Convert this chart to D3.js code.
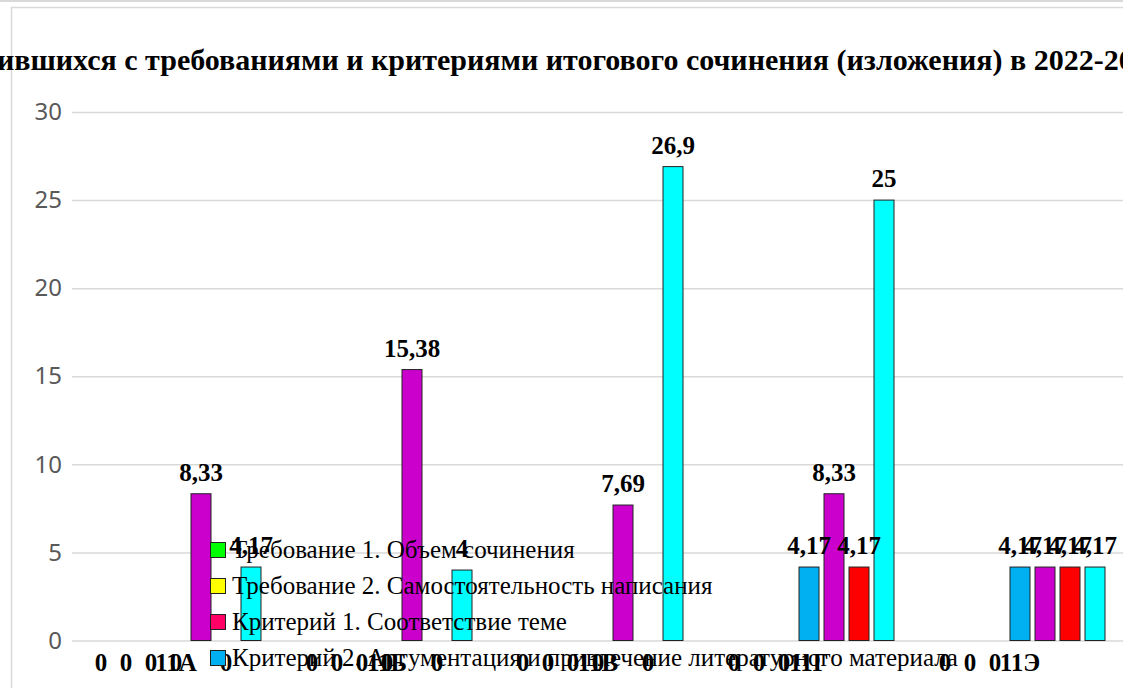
<!DOCTYPE html>
<html>
<head>
<meta charset="utf-8">
<script src="https://cdn.jsdelivr.net/npm/d3@7"></script>
<style>
  body { margin: 0; background: #fff; }
  svg { display: block; }
</style>
</head>
<body>
<div class="chart"></div>
<script>
// Bar chart of criteria per class
var svgWidth = 1123;
var svgHeight = 688;

var titleText = "Доля обучающихся, не справившихся с требованиями и критериями итогового сочинения (изложения) в 2022-2023 учебном году";

var classes = ["11А", "11Б", "11В", "11Г", "11Э"];
var seriesNames = [
    "Требование 1. Объем сочинения",
    "Требование 2. Самостоятельность написания",
    "Критерий 1. Соответствие теме",
    "Критерий 2. Аргументация и привлечение литературного материала",
    "Критерий 3. Композиция и логика рассуждения",
    "Критерий 4. Качество письменной речи",
    "Критерий 5. Грамотность"
];
var seriesColors = ["#00ff00", "#ffff00", "#ff0066", "#00b0f0", "#cc00cc", "#ff0000", "#00ffff"];
// only the first legend rows fit in the visible frame
var legendCount = 4;

// values per series, in class order
var req1 = [0, 0, 0, 0, 0];
var req2 = [0, 0, 0, 0, 0];
var crit1 = [0, 0, 0, 0, 0];
var crit2 = [0, 0, 0, 4.17, 4.17];
var crit3 = [8.33, 15.38, 7.69, 8.33, 4.17];
var crit4 = [0, 0, 0, 4.17, 4.17];
var crit5 = [4.17, 4, 26.9, 25, 4.17];
var seriesValues = [req1, req2, crit1, crit2, crit3, crit4, crit5];

var yTicks = [0, 5, 10, 15, 20, 25, 30];

var svg = d3.select(".chart")
    .append("svg")
    .attr("width", svgWidth)
    .attr("height", svgHeight);

// frame lines
svg.append("line")
    .attr("x1", 0).attr("x2", svgWidth)
    .attr("y1", 1).attr("y2", 1)
    .attr("stroke", "#d9d9d9").attr("stroke-width", 2);
svg.append("rect")
    .attr("x", 11.5).attr("y", 7.5)
    .attr("width", svgWidth + 20).attr("height", svgHeight + 20)
    .attr("fill", "none")
    .attr("stroke", "#d9d9d9").attr("stroke-width", 1.5);

var x0 = d3.scaleBand()
    .domain(classes)
    .range([70.5, 70.5 + 211 * classes.length]);

var x1 = d3.scaleBand()
    .domain(d3.range(seriesNames.length))
    .range([20.5, 190.5])
    .paddingInner(0.2);

var yScale = d3.scaleLinear()
    .domain([0, 30])
    .range([640.5, 112]);

// grid + y labels
var leftAxis = d3.axisLeft(yScale)
    .tickValues(yTicks)
    .tickSize(-(svgWidth - 72))
    .tickPadding(10)
    .tickFormat(d3.format("d"));

var yAxis = svg.append("g")
    .attr("transform", "translate(72,0)")
    .call(leftAxis);
yAxis.select(".domain").remove();
yAxis.selectAll(".tick line")
    .attr("stroke", "#d9d9d9")
    .attr("stroke-width", 1.5);
yAxis.selectAll(".tick text")
    .attr("fill", "#595959")
    .style("font-family", "'Noto Sans', sans-serif")
    .style("font-size", "24px")
    .attr("x", -10);

// flatten data
var cells = [];
classes.forEach(function(c, ci) {
    seriesValues.forEach(function(vals, si) {
        cells.push({ cls: c, s: si, value: vals[ci] });
    });
});

var chart = svg.append("g");

chart.selectAll("rect.bar")
    .data(cells.filter(function(d) { return d.value > 0; }))
    .enter()
    .append("rect")
    .attr("class", "bar")
    .attr("x", function(d) { return x0(d.cls) + x1(d.s); })
    .attr("y", function(d) { return yScale(d.value); })
    .attr("width", x1.bandwidth())
    .attr("height", function(d) { return yScale(0) - yScale(d.value); })
    .attr("fill", function(d) { return seriesColors[d.s]; })
    .attr("stroke", "#222")
    .attr("stroke-width", 1);

// category labels
chart.selectAll("text.cat")
    .data(classes)
    .enter()
    .append("text")
    .attr("class", "cat")
    .attr("x", function(d) { return x0(d) + x0.bandwidth() / 2; })
    .attr("y", 671)
    .attr("text-anchor", "middle")
    .style("font-family", "'Liberation Serif', serif")
    .style("font-weight", "bold")
    .style("font-size", "25px")
    .text(function(d) { return d; });

// data labels
var fmt = function(v) { return String(v).replace(".", ","); };
chart.selectAll("text.val")
    .data(cells)
    .enter()
    .append("text")
    .attr("class", "val")
    .attr("x", function(d) { return x0(d.cls) + x1(d.s) + x1.bandwidth() / 2; })
    .attr("y", function(d) { return d.value > 0 ? yScale(d.value) - 13 : 671; })
    .attr("text-anchor", "middle")
    .style("font-family", "'Liberation Serif', serif")
    .style("font-weight", "bold")
    .style("font-size", "25px")
    .text(function(d) { return fmt(d.value); });

// legend
var legend = svg.append("g")
    .attr("transform", "translate(210,542)");
var items = legend.selectAll("g")
    .data(seriesNames.slice(0, legendCount))
    .enter()
    .append("g")
    .attr("transform", function(d, i) { return "translate(0," + (i * 36) + ")"; });
items.append("rect")
    .attr("x", 0.5).attr("y", 0.5)
    .attr("width", 15).attr("height", 15)
    .attr("fill", function(d, i) { return seriesColors[i]; })
    .attr("stroke", "#222");
items.append("text")
    .attr("x", 22)
    .attr("y", 15.5)
    .style("font-family", "'Liberation Serif', serif")
    .style("font-size", "25px")
    .attr("fill", "#000")
    .text(function(d) { return d; });

// title, fitted to the visible part
var title = svg.append("text")
    .attr("y", 70)
    .style("font-family", "'Liberation Serif', serif")
    .style("font-weight", "bold")
    .style("font-size", "28px")
    .text(titleText);
var node = title.node();
var i0 = titleText.indexOf("ившихся с");
var i1 = titleText.indexOf("2022");
var w = node.getSubStringLength(i0, i1 - i0);
var fs = 28 * 1037 / w;
title.style("font-size", fs + "px");
var pre = node.getSubStringLength(0, i0);
title.attr("x", -3 - pre);
</script>
</body>
</html>
